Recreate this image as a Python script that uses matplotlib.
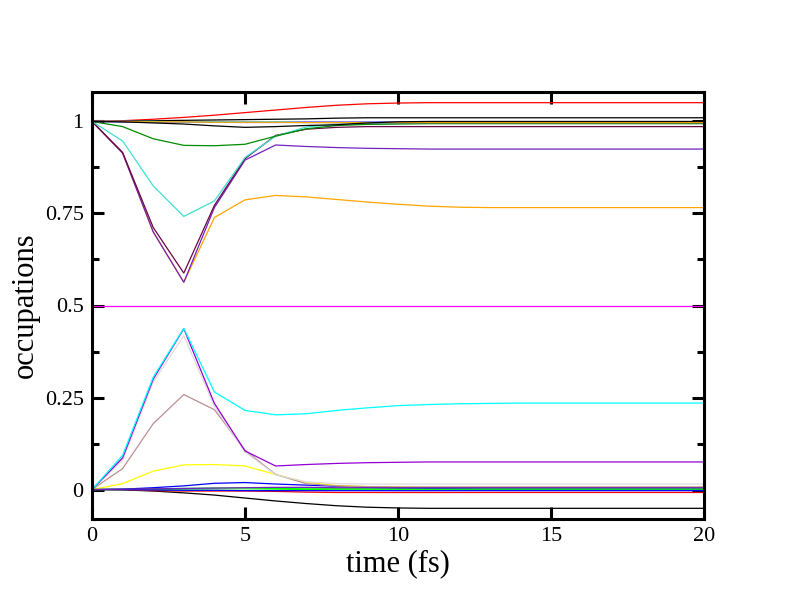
import matplotlib
matplotlib.use("Agg")
import matplotlib.pyplot as plt
from matplotlib.ticker import MultipleLocator, FuncFormatter

# grace default palette
grace = {
    "black": (0, 0, 0), "red": (255, 0, 0), "green": (0, 255, 0), "blue": (0, 0, 255),
    "yellow": (255, 255, 0), "brown": (188, 143, 143), "grey": (220, 220, 220),
    "violet": (148, 0, 211), "cyan": (0, 255, 255), "magenta": (255, 0, 255),
    "orange": (255, 165, 0), "indigo": (114, 33, 188), "maroon": (103, 7, 72),
    "turquoise": (64, 224, 208), "green4": (0, 139, 0),
}
grace = {k: tuple(c / 255 for c in v) for k, v in grace.items()}

time = [0, 1, 2, 3, 4, 5, 6, 7, 8, 9, 10, 11, 12, 13, 14, 15, 16, 17, 18, 19, 20]

# occupations, one list per orbital
black_lo = [0.000, -0.001, -0.004, -0.009, -0.015, -0.023, -0.031, -0.038, -0.044, -0.048, -0.050,
            -0.051, -0.051, -0.051, -0.051, -0.051, -0.051, -0.051, -0.051, -0.051, -0.051]
red_up = [1.000, 1.002, 1.006, 1.011, 1.017, 1.024, 1.031, 1.038, 1.044, 1.048, 1.050,
          1.051, 1.051, 1.051, 1.051, 1.051, 1.051, 1.051, 1.051, 1.051, 1.051]
green_lo = [0.000, 0.001, 0.002, 0.003, 0.004, 0.004, 0.003, 0.002, 0.002, 0.002, 0.002,
            0.002, 0.002, 0.002, 0.002, 0.002, 0.002, 0.002, 0.002, 0.002, 0.002]
blue_lo = [0.000, 0.001, 0.005, 0.010, 0.017, 0.019, 0.015, 0.012, 0.009, 0.006, 0.004,
           0.003, 0.002, 0.001, 0.001, 0.001, 0.001, 0.001, 0.001, 0.001, 0.001]
yellow_lo = [0.000, 0.016, 0.050, 0.067, 0.068, 0.064, 0.041, 0.020, 0.011, 0.008, 0.007,
             0.006, 0.006, 0.006, 0.006, 0.006, 0.006, 0.006, 0.006, 0.006, 0.006]
brown_lo = [0.000, 0.057, 0.179, 0.258, 0.217, 0.107, 0.041, 0.016, 0.010, 0.008, 0.007,
            0.007, 0.007, 0.007, 0.007, 0.007, 0.007, 0.007, 0.007, 0.007, 0.007]
grey_lo = [0.000, 0.080, 0.292, 0.418, 0.226, 0.102, 0.040, 0.021, 0.016, 0.015, 0.015,
           0.015, 0.015, 0.015, 0.015, 0.015, 0.015, 0.015, 0.015, 0.015, 0.015]
violet_lo = [0.000, 0.086, 0.300, 0.437, 0.234, 0.105, 0.064, 0.068, 0.071, 0.073, 0.074,
             0.075, 0.075, 0.075, 0.075, 0.075, 0.075, 0.075, 0.075, 0.075, 0.075]
cyan_lo = [0.000, 0.093, 0.305, 0.438, 0.265, 0.215, 0.203, 0.206, 0.215, 0.222, 0.228,
           0.231, 0.233, 0.234, 0.235, 0.235, 0.235, 0.235, 0.235, 0.235, 0.235]
magenta_mid = [0.5] * 21
orange_up = [1.000, 0.914, 0.700, 0.563, 0.739, 0.787, 0.799, 0.795, 0.788, 0.781, 0.775,
             0.770, 0.767, 0.766, 0.766, 0.766, 0.766, 0.766, 0.766, 0.766, 0.766]
indigo_up = [1.000, 0.914, 0.700, 0.563, 0.766, 0.895, 0.936, 0.932, 0.929, 0.927, 0.926,
             0.925, 0.925, 0.925, 0.925, 0.925, 0.925, 0.925, 0.925, 0.925, 0.925]
maroon_up = [1.000, 0.916, 0.712, 0.588, 0.772, 0.899, 0.962, 0.979, 0.984, 0.986, 0.986,
             0.986, 0.986, 0.986, 0.986, 0.986, 0.986, 0.986, 0.986, 0.986, 0.986]
turquoise_up = [1.000, 0.947, 0.825, 0.742, 0.784, 0.902, 0.960, 0.985, 0.992, 0.994, 0.995,
                0.995, 0.995, 0.995, 0.995, 0.995, 0.995, 0.995, 0.995, 0.995, 0.995]
green4_up = [1.000, 0.986, 0.953, 0.935, 0.934, 0.938, 0.960, 0.980, 0.989, 0.992, 0.993,
             0.994, 0.994, 0.994, 0.994, 0.994, 0.994, 0.994, 0.994, 0.994, 0.994]
# second colour cycle, small ones near 0 and 1
black_up = [1.000, 1.001, 1.002, 1.003, 1.004, 1.005, 1.006, 1.007, 1.009, 1.010, 1.010,
            1.010, 1.010, 1.010, 1.010, 1.010, 1.010, 1.010, 1.010, 1.010, 1.010]
red_lo = [0.000, 0.000, -0.003, -0.004, -0.004, -0.004, -0.005, -0.007, -0.008, -0.008, -0.008,
          -0.008, -0.008, -0.008, -0.008, -0.008, -0.008, -0.008, -0.008, -0.008, -0.008]
green_lo2 = [0.000, 0.000, 0.000, -0.001, -0.002, -0.002, -0.001, 0.000, 0.001, 0.001, 0.001,
             0.001, 0.001, 0.001, 0.001, 0.001, 0.001, 0.001, 0.001, 0.001, 0.001]
blue_up = [1.000, 0.999, 0.999, 0.999, 0.999, 0.998, 0.998, 0.998, 0.997, 0.997, 0.997,
           0.997, 0.997, 0.997, 0.997, 0.997, 0.997, 0.997, 0.997, 0.997, 0.997]
brown_up = [1.000, 1.000, 0.999, 0.998, 0.998, 0.997, 0.997, 0.997, 0.997, 0.997, 0.997,
            0.997, 0.997, 0.997, 0.997, 0.997, 0.997, 0.997, 0.997, 0.997, 0.997]
magenta_up = [1.000, 1.000, 0.999, 0.999, 0.999, 0.999, 0.999, 0.999, 0.999, 0.999, 0.999,
              0.999, 0.999, 0.999, 0.999, 0.999, 0.999, 0.999, 0.999, 0.999, 0.999]
cyan_up = [1.000, 1.000, 1.000, 0.999, 0.999, 0.999, 0.999, 0.998, 0.998, 0.998, 0.998,
           0.998, 0.998, 0.998, 0.998, 0.998, 0.998, 0.998, 0.998, 0.998, 0.998]
orange_up2 = [1.000, 1.000, 0.999, 0.999, 0.998, 0.998, 0.998, 0.997, 0.997, 0.997, 0.997,
              0.997, 0.997, 0.997, 0.997, 0.997, 0.997, 0.997, 0.997, 0.997, 0.997]
indigo_lo = [0.000, 0.001, 0.002, 0.003, 0.004, 0.005, 0.006, 0.006, 0.005, 0.005, 0.005,
             0.005, 0.005, 0.005, 0.005, 0.005, 0.005, 0.005, 0.005, 0.005, 0.005]
blue_lo2 = [0.000, 0.000, -0.001, -0.002, -0.002, -0.003, -0.003, -0.003, -0.003, -0.003, -0.003,
            -0.003, -0.003, -0.003, -0.003, -0.003, -0.003, -0.003, -0.003, -0.003, -0.003]
black_dip = [1.000, 0.999, 0.996, 0.993, 0.988, 0.984, 0.986, 0.989, 0.991, 0.996, 0.999,
             1.000, 1.000, 1.000, 1.000, 1.000, 1.000, 1.000, 1.000, 1.000, 1.000]

# draw order follows the grace set order (later sets on top)
sets = [
    (black_lo, "black"), (red_up, "red"), (green_lo, "green"), (blue_lo, "blue"),
    (yellow_lo, "yellow"), (brown_lo, "brown"), (grey_lo, "grey"), (violet_lo, "violet"),
    (cyan_lo, "cyan"), (magenta_mid, "magenta"), (orange_up, "orange"), (indigo_up, "indigo"),
    (maroon_up, "maroon"), (turquoise_up, "turquoise"), (green4_up, "green4"),
    (black_up, "black"), (red_lo, "red"), (green_lo2, "green"), (blue_up, "blue"),
    (brown_up, "brown"), (blue_lo2, "blue"), (magenta_up, "magenta"), (cyan_up, "cyan"),
    (orange_up2, "orange"), (indigo_lo, "indigo"), (black_dip, "black"),
]

plt.rcParams["font.family"] = ["Liberation Serif", "DejaVu Serif"]

fig = plt.figure(figsize=(7.92, 6.12), dpi=100)
ax = fig.add_axes([92 / 792, 93 / 612, 612 / 792, 427 / 612])

for vals, cname in sets:
    ax.plot(time, vals, color=grace[cname], lw=0.9, solid_joinstyle="miter")

ax.set_xlim(0, 20)
ax.set_ylim(-0.08, 1.08)
ax.xaxis.set_major_locator(MultipleLocator(5))
ax.yaxis.set_major_locator(MultipleLocator(0.25))
ax.yaxis.set_minor_locator(MultipleLocator(0.125))
ax.yaxis.set_major_formatter(FuncFormatter(lambda v, p: "%g" % v))

for s in ax.spines.values():
    s.set_linewidth(2.2)
ax.tick_params(axis="both", which="both", direction="in", top=True, right=True,
               width=2.2, labelsize=16, pad=6)
ax.tick_params(which="major", length=8.6)
ax.tick_params(which="minor", length=4.7)

fig.text(398 / 792, 1 - 564 / 612, "time (fs)", fontsize=22, ha="center", va="center")
fig.text(25 / 792, 1 - 305 / 612, "occupations", fontsize=22, rotation=90,
         ha="center", va="center")

fig.savefig("out.png", dpi=100)
